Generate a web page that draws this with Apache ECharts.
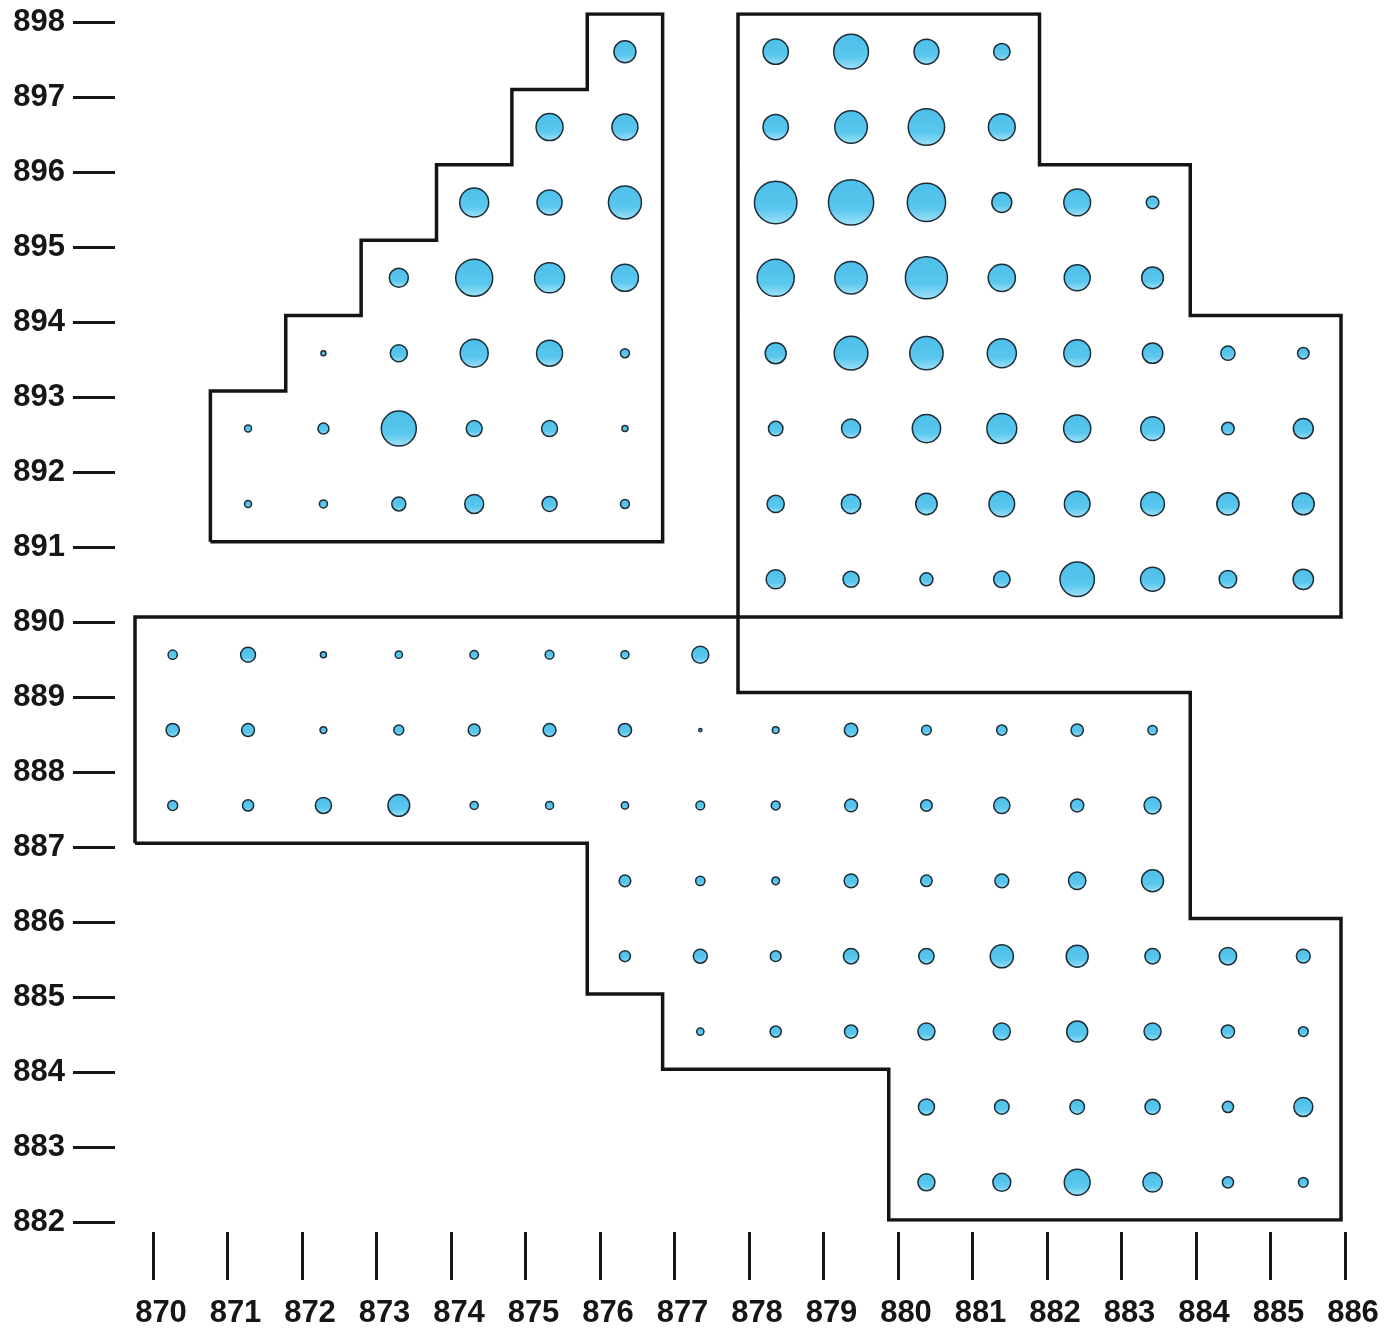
<!DOCTYPE html>
<html>
<head>
<meta charset="utf-8">
<script src="https://cdn.jsdelivr.net/npm/echarts@6/dist/echarts.min.js"></script>
<style>
  html, body { margin: 0; padding: 0; background: #ffffff; }
  #chart { width: 1386px; height: 1329px; }
</style>
</head>
<body>
<div id="chart"></div>
<script>
// Axis ranges / tick labels
const xRange = [870, 886];
const yRange = [882, 898];

// Region outlines (data coordinates)
const topLeftOutline = [[871,891],[871,893],[872,893],[872,894],[873,894],[873,895],[874,895],[874,896],[875,896],[875,897],[876,897],[876,898],[877,898],[877,891],[871,891]];
const topRightOutline = [[878,890],[878,898],[882,898],[882,896],[884,896],[884,894],[886,894],[886,890],[878,890]];
const bottomOutline = [[870,887],[870,890],[878,890],[878,889],[884,889],[884,886],[886,886],[886,882],[880,882],[880,884],[877,884],[877,885],[876,885],[876,887],[870,887]];

// Bubbles: [x, y, value]
const topLeftBubbles = [
  [876.5,897.5,23.9],
  [875.5,896.5,36.0],[876.5,896.5,33.4],
  [874.5,895.5,41.5],[875.5,895.5,30.9],[876.5,895.5,53.8],
  [873.5,894.5,17.8],[874.5,894.5,67.6],[875.5,894.5,44.4],[876.5,894.5,36.0],
  [872.5,893.5,1.2],[873.5,893.5,14.3],[874.5,893.5,38.7],[875.5,893.5,33.4],[876.5,893.5,4.0],
  [871.5,892.5,2.4],[872.5,892.5,6.0],[873.5,892.5,60.5],[874.5,892.5,12.6],[875.5,892.5,12.6],[876.5,892.5,1.8],
  [871.5,891.5,2.4],[872.5,891.5,3.2],[873.5,891.5,9.7],[874.5,891.5,17.8],[875.5,891.5,11.1],[876.5,891.5,4.0]
];
const topRightBubbles = [
  [878.5,897.5,31.6],[879.5,897.5,59.8],[880.5,897.5,30.6],[881.5,897.5,13.4],
  [878.5,896.5,31.6],[879.5,896.5,52.2],[880.5,896.5,65.4],[881.5,896.5,35.5],
  [878.5,895.5,89.2],[879.5,895.5,100.9],[880.5,895.5,72.4],[881.5,895.5,19.6],[882.5,895.5,35.5],[883.5,895.5,7.8],
  [878.5,894.5,68.0],[879.5,894.5,52.2],[880.5,894.5,87.5],[881.5,894.5,36.5],[882.5,894.5,33.4],[883.5,894.5,23.5],
  [878.5,893.5,21.8],[879.5,893.5,56.1],[880.5,893.5,54.8],[881.5,893.5,41.8],[882.5,893.5,35.5],[883.5,893.5,20.4],[884.5,893.5,10.0],[885.5,893.5,6.5],
  [878.5,892.5,10.4],[879.5,892.5,18.0],[880.5,892.5,39.6],[881.5,892.5,44.1],[882.5,892.5,36.5],[883.5,892.5,27.7],[884.5,892.5,7.8],[885.5,892.5,19.6],
  [878.5,891.5,14.6],[879.5,891.5,18.8],[880.5,891.5,22.6],[881.5,891.5,32.4],[882.5,891.5,32.4],[883.5,891.5,27.7],[884.5,891.5,24.3],[885.5,891.5,23.5],
  [878.5,890.5,18.0],[879.5,890.5,12.8],[880.5,890.5,8.3],[881.5,890.5,13.4],[882.5,890.5,58.4],[883.5,890.5,28.7],[884.5,890.5,15.3],[885.5,890.5,20.4]
];
const bottomBubbles = [
  [870.5,889.5,4.2],[871.5,889.5,11.0],[872.5,889.5,1.8],[873.5,889.5,2.6],[874.5,889.5,3.5],[875.5,889.5,3.8],[876.5,889.5,3.2],[877.5,889.5,14.1],
  [870.5,888.5,8.7],[871.5,888.5,8.2],[872.5,888.5,2.3],[873.5,888.5,4.9],[874.5,888.5,7.1],[875.5,888.5,8.2],[876.5,888.5,8.7],[877.5,888.5,0.5],
  [878.5,888.5,2.2],[879.5,888.5,9.0],[880.5,888.5,4.6],[881.5,888.5,5.3],[882.5,888.5,7.5],[883.5,888.5,4.3],
  [870.5,887.5,4.9],[871.5,887.5,6.2],[872.5,887.5,12.8],[873.5,887.5,23.3],[874.5,887.5,3.2],[875.5,887.5,3.2],[876.5,887.5,2.6],[877.5,887.5,3.8],
  [878.5,887.5,3.9],[879.5,887.5,8.0],[880.5,887.5,6.6],[881.5,887.5,13.0],[882.5,887.5,8.5],[883.5,887.5,14.3],
  [876.5,886.5,6.7],[877.5,886.5,4.3],[878.5,886.5,2.9],[879.5,886.5,9.5],[880.5,886.5,6.6],[881.5,886.5,9.5],[882.5,886.5,15.0],[883.5,886.5,23.9],
  [876.5,885.5,6.0],[877.5,885.5,9.7],[878.5,885.5,5.8],[879.5,885.5,11.7],[880.5,885.5,11.7],[881.5,885.5,26.4],[882.5,885.5,23.9],[883.5,885.5,11.7],[884.5,885.5,15.0],[885.5,885.5,9.5],
  [877.5,884.5,2.6],[878.5,884.5,6.2],[879.5,884.5,8.6],[880.5,884.5,14.4],[881.5,884.5,14.4],[882.5,884.5,21.8],[883.5,884.5,14.4],[884.5,884.5,8.6],[885.5,884.5,4.7],
  [880.5,883.5,12.8],[881.5,883.5,10.5],[882.5,883.5,10.5],[883.5,883.5,11.3],[884.5,883.5,6.2],[885.5,883.5,17.8],
  [880.5,882.5,14.4],[881.5,882.5,16.0],[882.5,882.5,33.1],[883.5,882.5,18.8],[884.5,882.5,6.2],[885.5,882.5,4.7]
];

const labelFont = { fontFamily: '"Liberation Sans", Arial, sans-serif', fontWeight: 'bold', fontSize: 31, color: '#161616' };
const bubbleFill = new echarts.graphic.LinearGradient(0, 0, 0, 1, [
  { offset: 0, color: '#4cbfe9' },
  { offset: 0.65, color: '#5ac7ee' },
  { offset: 1, color: '#a3e3f7' }
]);
const bubbleSize = v => Math.sqrt(v[2]) * 4.5;

function outlineSeries(data) {
  return {
    type: 'line', xAxisIndex: 0, yAxisIndex: 0, data: data,
    symbol: 'none', silent: true, z: 3,
    lineStyle: { color: '#141414', width: 3.5, join: 'miter' }
  };
}
function bubbleSeries(data) {
  return {
    type: 'scatter', xAxisIndex: 0, yAxisIndex: 0, data: data,
    symbolSize: bubbleSize, silent: true, z: 4,
    itemStyle: { color: bubbleFill, borderColor: '#1d2d38', borderWidth: 1.5, opacity: 1 }
  };
}

const chart = echarts.init(document.getElementById('chart'), null, { renderer: 'canvas' });
chart.setOption({
  animation: false,
  backgroundColor: '#ffffff',
  grid: [
    { left: 135, top: 14, width: 1206, height: 1206 },
    { left: 153, top: 22, width: 1192, height: 1200 }
  ],
  xAxis: [
    { gridIndex: 0, type: 'value', min: xRange[0], max: xRange[1], show: false },
    {
      gridIndex: 1, type: 'value', min: xRange[0], max: xRange[1], interval: 1, offset: 10,
      axisLine: { show: false },
      axisTick: { show: true, length: 48, lineStyle: { color: '#161616', width: 3 } },
      splitLine: { show: false },
      axisLabel: Object.assign({ margin: 66, padding: [0, 0, 0, 16] }, labelFont)
    }
  ],
  yAxis: [
    { gridIndex: 0, type: 'value', min: yRange[0], max: yRange[1], show: false },
    {
      gridIndex: 1, type: 'value', min: yRange[0], max: yRange[1], interval: 1, offset: 38,
      axisLine: { show: false },
      axisTick: { show: true, length: 42, lineStyle: { color: '#161616', width: 3 } },
      splitLine: { show: false },
      axisLabel: Object.assign({ margin: 50 }, labelFont)
    }
  ],
  series: [
    outlineSeries(topLeftOutline),
    outlineSeries(topRightOutline),
    outlineSeries(bottomOutline),
    bubbleSeries(topLeftBubbles),
    bubbleSeries(topRightBubbles),
    bubbleSeries(bottomBubbles)
  ]
});
</script>
</body>
</html>
